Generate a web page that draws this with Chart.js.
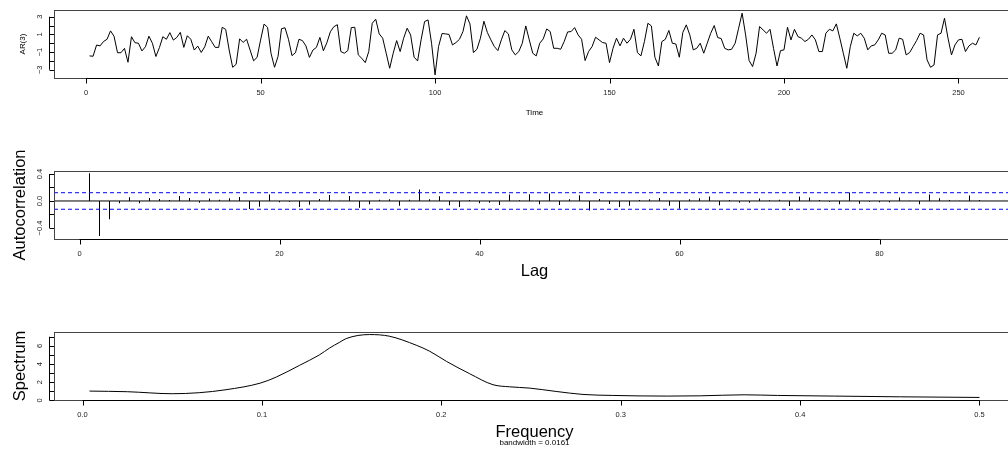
<!DOCTYPE html>
<html>
<head>
<meta charset="utf-8">
<script src="https://cdn.jsdelivr.net/npm/chart.js@4.4.1/dist/chart.umd.min.js"></script>
<style>
  html, body { margin: 0; padding: 0; background: #fff; overflow: hidden; width: 1008px; height: 450px; }
  .panel { position: absolute; left: 0; }
</style>
</head>
<body>
<canvas id="seriesChart" class="panel" width="1020" height="125" style="top:0"></canvas>
<canvas id="acfChart" class="panel" width="1020" height="160" style="top:125px"></canvas>
<canvas id="specChart" class="panel" width="1020" height="165" style="top:285px"></canvas>
<script>
// AR(3) simulated series, t = 1..256
const seriesValues = [
  -1.43, -1.47, -0.2, -0.3, 0.2, 0.45, 1.4, 0.8, -1.07, -1.07,
  -0.58, -2.15, 0.74, 0.06, 0.0, -0.87, -0.4, 0.8, 0.0, -1.5,
  -0.5, 0.74, 0.45, 1.2, 0.36, 0.66, 1.23, -0.47, 0.85, 0.45,
  -0.77, -0.32, -1.04, -0.4, 0.8, 0.17, -0.47, -0.47, 1.8, 1.57,
  -0.77, -2.72, -2.38, 0.5, 0.1, 0.45, -0.77, -1.98, -1.6, 0.36,
  2.17, 1.8, -1.15, -2.72, -1.5, 1.64, 1.75, 0.45, -1.4, -1.07,
  0.45, 0.3, -0.3, -1.6, -0.77, -0.47, 0.66, -0.85, 0.06, 1.3,
  1.87, 2.1, -0.94, -1.13, -0.83, 1.77, 1.81, -1.32, -1.7, -2.19,
  -0.94, 2.26, 2.72, 1.06, 0.57, -1.13, -2.83, -1.13, 0.3, -0.94,
  0.57, 1.7, 0.94, -1.58, -2.0, 0.38, 2.45, 2.64, 0.0, -3.58,
  -0.38, 1.1, 1.06, 1.0, -0.19, 0.08, 0.45, 1.32, 3.1, 2.19,
  -1.06, -0.68, 0.57, 2.49, 1.21, 0.38, -0.38, -0.83, 0.38, 1.43,
  1.06, -0.75, -1.32, -0.94, 0.0, 1.96, 0.38, -1.13, -1.43, 0.0,
  0.49, 1.62, 1.32, -0.57, -0.57, -0.68, 0.19, 1.28, 1.32, 1.77,
  0.94, 0.45, -1.96, -0.94, -0.38, 0.68, 0.38, 0.08, 0.0, -2.19,
  -0.57, 0.57, -0.3, 0.57, 0.0, 0.45, 1.58, -1.06, -1.43, 0.19,
  2.26, 1.96, -1.58, -2.57, 0.19, 0.45, 1.45, 0.0, -0.08, -1.58,
  1.21, 2.08, 0.94, -0.75, -0.57, 0.0, -1.13, 0.0, 1.13, 2.0,
  0.64, 0.53, -0.57, -0.75, -0.68, 0.0, 1.7, 3.4, 0.94, -1.96,
  -2.64, -1.13, 1.89, 1.51, 1.13, 1.58, -0.57, -2.57, -0.83, -0.75,
  1.81, 0.38, 1.58, 0.75, 0.57, 0.19, 0.45, 0.94, 0.38, -0.94,
  -0.94, 1.13, 1.58, 1.4, 2.19, 0.57, -1.13, -2.83, -0.38, 1.13,
  0.83, 1.13, 0.57, -0.75, -0.3, -0.19, 0.38, 1.13, 0.94, -1.13,
  -1.13, -0.75, 0.57, 0.45, -1.32, -1.06, -0.38, 0.3, 1.13, 0.94,
  -1.89, -2.72, -2.45, 0.94, 1.13, 2.83, 0.57, -1.32, -0.19, 0.38,
  0.45, -0.94, -0.3, 0.0, -0.19, 0.68
];
const times = seriesValues.map((_, i) => i + 1);

// sample ACF, lags 1..90
const acfValues = [
  0.41, -0.52, -0.27, -0.035, 0.055, -0.035, 0.045, 0.03, 0.015, 0.075,
  0.045, -0.025, 0.035, 0.02, 0.04, 0.06, -0.12, -0.085, 0.095, -0.02,
  -0.01, -0.09, -0.055, 0.03, 0.09, 0.005, 0.075, -0.1, -0.05, 0.02,
  0.025, -0.07, 0.02, 0.17, 0.025, 0.07, -0.065, -0.09, 0.015, -0.035,
  -0.025, -0.06, 0.095, 0.01, 0.1, -0.05, 0.11, -0.06, 0.025, 0.085,
  -0.14, 0.03, -0.045, -0.09, -0.07, 0.015, 0.025, 0.045, -0.07, -0.115,
  0.025, 0.04, 0.065, -0.065, 0.015, -0.025, -0.025, 0.035, 0.01, 0.02,
  -0.075, 0.065, 0.05, 0.015, -0.01, -0.05, 0.125, -0.04, -0.01, -0.02,
  -0.02, 0.05, 0.005, -0.05, 0.095, 0.04, 0.015, 0.005, 0.08, 0.015
];
const lags = acfValues.map((_, i) => i + 1);
const acfBound = 0.1225; // 1.96 / sqrt(256)

// smoothed periodogram
const freqs = [0.0039, 0.025, 0.05, 0.065, 0.08, 0.099, 0.108, 0.121, 0.132, 0.1378,
  0.1434, 0.147, 0.160, 0.171, 0.186, 0.1936, 0.2028, 0.2158, 0.2288, 0.238,
  0.249, 0.264, 0.279, 0.2956, 0.326, 0.3446, 0.3688, 0.3874, 0.419, 0.456, 0.5];
const specValues = [1.03, 0.96, 0.74, 0.85, 1.18, 1.9, 2.57, 3.86, 5.0, 5.77,
  6.4, 6.8, 7.24, 7.06, 6.07, 5.4, 4.3, 2.94, 1.73, 1.5,
  1.36, 0.99, 0.66, 0.55, 0.48, 0.51, 0.62, 0.55, 0.48, 0.40, 0.33];

const seriesXTicks = [0, 50, 100, 150, 200, 250];
const seriesYTicks = [-3, -2, -1, 0, 1, 2, 3];
const seriesYLabels = ['3', '1', '\u22121', '\u22123'];
const acfXTicks = [0, 20, 40, 60, 80];
const acfYTicks = [-0.4, -0.2, 0, 0.2, 0.4];
const acfYLabels = ['0.4', '0.0', '\u22120.4'];
const specXTicks = [0, 0.1, 0.2, 0.3, 0.4, 0.5];
const specXLabels = ['0.0', '0.1', '0.2', '0.3', '0.4', '0.5'];
const specYTicks = [0, 1, 2, 3, 4, 5, 6, 7];
const specYLabels = ['0', '2', '4', '6'];

const FONT = '"Liberation Sans", Arial, Helvetica, sans-serif';

// R-style box, ticks and titles drawn from the chart's scales
const rAxes = {
  id: 'rAxes',
  afterDraw(chart, args, o) {
    const { ctx, chartArea: a, scales: { x, y } } = chart;
    ctx.save();
    ctx.lineWidth = 1;
    ctx.strokeStyle = '#444';
    ctx.strokeRect(Math.round(a.left) + 0.5, Math.round(a.top) + 0.5,
      Math.round(a.right - a.left), Math.round(a.bottom - a.top));

    ctx.strokeStyle = '#000';
    const bot = Math.round(a.bottom) + 0.5;
    ctx.beginPath();
    ctx.moveTo(x.getPixelForValue(o.xTicks[0]), bot);
    ctx.lineTo(x.getPixelForValue(o.xTicks[o.xTicks.length - 1]), bot);
    o.xTicks.forEach(v => {
      const px = Math.round(x.getPixelForValue(v)) + 0.5;
      ctx.moveTo(px, bot);
      ctx.lineTo(px, bot + 5);
    });
    const ax = Math.round(a.left) - 4.5;
    ctx.moveTo(ax, y.getPixelForValue(o.yTicks[0]));
    ctx.lineTo(ax, y.getPixelForValue(o.yTicks[o.yTicks.length - 1]));
    o.yTicks.forEach(v => {
      const py = Math.round(y.getPixelForValue(v)) + 0.5;
      ctx.moveTo(ax, py);
      ctx.lineTo(Math.round(a.left), py);
    });
    ctx.stroke();

    ctx.fillStyle = '#222';
    ctx.font = `7.5px ${FONT}`;
    ctx.textAlign = 'center';
    ctx.textBaseline = 'middle';
    o.xTicks.forEach((v, i) => {
      ctx.fillText(o.xLabels[i], x.getPixelForValue(v), a.bottom + 15);
    });
    o.yLabelValues.forEach((v, i) => {
      ctx.save();
      ctx.translate(40, y.getPixelForValue(v));
      ctx.rotate(-Math.PI / 2);
      ctx.fillText(o.yLabels[i], 0, 0);
      ctx.restore();
    });

    const cx = (a.left + a.right) / 2;
    ctx.fillStyle = '#000';
    ctx.font = `${o.titleSize}px ${FONT}`;
    ctx.fillText(o.xTitle, cx, a.bottom + o.xTitleGap);
    if (o.sub) {
      ctx.font = `8px ${FONT}`;
      ctx.fillText(o.sub, cx, a.bottom + o.xTitleGap + 10);
    }
    // y title, left edge clipped as in the original device
    ctx.save();
    ctx.beginPath();
    ctx.rect(12, 0, 60, chart.height);
    ctx.clip();
    ctx.translate(25, (a.top + a.bottom) / 2);
    ctx.rotate(-Math.PI / 2);
    ctx.textBaseline = 'alphabetic';
    ctx.font = `${o.titleSize}px ${FONT}`;
    ctx.fillText(o.yTitle, 0, 0);
    ctx.restore();
    ctx.restore();
  }
};

const hidden = { display: false };
const baseOpts = (pad, xMin, xMax, yMin, yMax, axes) => ({
  responsive: false,
  animation: false,
  devicePixelRatio: 1,
  events: [],
  layout: { padding: pad },
  plugins: { legend: hidden, tooltip: { enabled: false }, rAxes: axes },
  scales: {
    x: { type: 'linear', min: xMin, max: xMax, display: false, offset: false },
    y: { type: 'linear', min: yMin, max: yMax, display: false }
  }
});

new Chart(document.getElementById('seriesChart'), {
  type: 'line',
  data: {
    datasets: [{
      data: times.map((t, i) => ({ x: t, y: seriesValues[i] })),
      borderColor: '#000',
      borderWidth: 1,
      pointRadius: 0,
      tension: 0
    }]
  },
  options: baseOpts({ left: 54, right: 5, top: 10, bottom: 47 }, -9.2, 266.2, -3.93, 3.76, {
    xTicks: seriesXTicks, xLabels: seriesXTicks.map(String),
    yTicks: seriesYTicks, yLabelValues: [3, 1, -1, -3], yLabels: seriesYLabels,
    xTitle: 'Time', yTitle: 'AR(3)', titleSize: 8, xTitleGap: 35
  }),
  plugins: [rAxes]
});

const acfMin = -2.55, acfMax = 93.55;
const hLine = (v, color, dash) => ({
  type: 'line',
  data: [{ x: acfMin, y: v }, { x: acfMax, y: v }],
  borderColor: color,
  borderWidth: 1,
  borderDash: dash,
  pointRadius: 0
});

new Chart(document.getElementById('acfChart'), {
  type: 'bar',
  data: {
    datasets: [
      hLine(0, '#000', []),
      hLine(acfBound, '#0000ff', [4, 3]),
      hLine(-acfBound, '#0000ff', [4, 3]),
      {
        type: 'bar',
        data: lags.map((l, i) => ({ x: l, y: acfValues[i] })),
        backgroundColor: '#000',
        borderWidth: 0,
        barThickness: 1,
        inflateAmount: 0
      }
    ]
  },
  options: baseOpts({ left: 54, right: 5, top: 46, bottom: 46 }, acfMin, acfMax, -0.563, 0.444, {
    xTicks: acfXTicks, xLabels: acfXTicks.map(String),
    yTicks: acfYTicks, yLabelValues: [0.4, 0, -0.4], yLabels: acfYLabels,
    xTitle: 'Lag', yTitle: 'Autocorrelation', titleSize: 16.5, xTitleGap: 32.7
  }),
  plugins: [rAxes]
});

new Chart(document.getElementById('specChart'), {
  type: 'line',
  data: {
    datasets: [{
      data: freqs.map((f, i) => ({ x: f, y: specValues[i] })),
      borderColor: '#000',
      borderWidth: 1,
      pointRadius: 0,
      cubicInterpolationMode: 'monotone'
    }]
  },
  options: baseOpts({ left: 54, right: 5, top: 47, bottom: 50 }, -0.0159, 0.5198, 0.05, 7.52, {
    xTicks: specXTicks, xLabels: specXLabels,
    yTicks: specYTicks, yLabelValues: [0, 2, 4, 6], yLabels: specYLabels,
    xTitle: 'Frequency', yTitle: 'Spectrum', titleSize: 16.5, xTitleGap: 32.3,
    sub: 'bandwidth = 0.0161'
  }),
  plugins: [rAxes]
});
</script>
</body>
</html>
